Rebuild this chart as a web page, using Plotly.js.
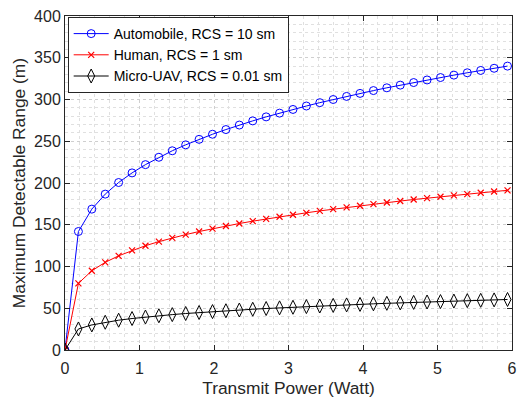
<!DOCTYPE html>
<html><head><meta charset="utf-8">
<script src="https://cdn.plot.ly/plotly-3.0.1.min.js"></script>
<style>body{margin:0;background:#fff}#c{width:517px;height:399px}</style>
</head><body><div id="c"></div>
<script>
var power = [0,0.18,0.36,0.54,0.72,0.90,1.08,1.26,1.44,1.62,1.80,1.98,2.16,2.34,2.52,2.70,2.88,3.06,3.24,3.42,3.60,3.78,3.96,4.14,4.32,4.50,4.68,4.86,5.04,5.22,5.40,5.58,5.76,5.94];
var automobile = [0,141.9,168.7,186.7,200.6,212.1,222.0,230.8,238.6,245.7,252.3,258.4,264.0,269.4,274.4,279.2,283.7,288.1,292.2,296.2,300.0,303.7,307.3,310.7,314.0,317.2,320.3,323.4,326.3,329.2,332.0,334.8,337.4,340.0];
var human = [0,79.8,94.9,105.0,112.8,119.3,124.9,129.8,134.2,138.2,141.9,145.3,148.5,151.5,154.3,157.0,159.6,162.0,164.3,166.6,168.7,170.8,172.8,174.7,176.6,178.4,180.2,181.9,183.5,185.2,186.7,188.3,189.8,191.2];
var microUAV = [0,25.2,30.0,33.2,35.7,37.7,39.5,41.0,42.4,43.7,44.9,46.0,47.0,47.9,48.8,49.7,50.5,51.2,52.0,52.7,53.4,54.0,54.6,55.3,55.9,56.4,57.0,57.5,58.0,58.6,59.1,59.5,60.0,60.5];
var seriesNames = ['Automobile, RCS = 10 sm','Human, RCS = 1 sm','Micro-UAV, RCS = 0.01 sm'];
var xTicks = [0,1,2,3,4,5,6];
var yTicks = [0,50,100,150,200,250,300,350,400];

var FONT = 'Liberation Sans, Arial, Helvetica, sans-serif';
var traces = [
 {x: power, y: automobile, name: seriesNames[0], mode:'lines+markers', type:'scatter',
  line:{color:'#0000ff', width:1}, marker:{symbol:'circle-open', size:8, color:'#0000ff', line:{width:1}}},
 {x: power, y: human, name: seriesNames[1], mode:'lines+markers', type:'scatter',
  line:{color:'#ff0000', width:1}, marker:{symbol:'x-thin-open', size:6, color:'#ff0000', line:{width:1.2, color:'#ff0000'}}},
 {x: power, y: microUAV, name: seriesNames[2], mode:'lines+markers', type:'scatter',
  line:{color:'#000000', width:1}, marker:{symbol:'diamond-tall-open', size:10, color:'#000000', line:{width:1}}}
];
var axisCommon = {
  showline:true, linecolor:'#262626', linewidth:1, mirror:'ticks',
  ticks:'inside', ticklen:5, tickcolor:'#262626', zeroline:false,
  showgrid:true, gridcolor:'#cfcfcf', griddash:'dot', gridwidth:1,
  tickfont:{family:FONT, size:16, color:'#262626'}
};
var layout = {
  width:517, height:399,
  margin:{l:65, r:5, t:16, b:49},
  paper_bgcolor:'#fff', plot_bgcolor:'#fff',
  showlegend:true,
  xaxis: Object.assign({}, axisCommon, {
    range:[0,6], tickvals:xTicks, ticktext:xTicks.map(String), ticklabelstandoff:4,
    minor:{dtick:0.2, showgrid:true, gridcolor:'#e0e0e0', griddash:'dot', ticks:''},
    title:{text:'Transmit Power (Watt)', font:{family:FONT, size:17.4, color:'#262626'}, standoff:5}
  }),
  yaxis: Object.assign({}, axisCommon, {
    range:[0,400], tickvals:yTicks, ticktext:yTicks.map(String),
    minor:{dtick:10, showgrid:true, gridcolor:'#e0e0e0', griddash:'dot', ticks:''},
    title:{text:'Maximum Detectable Range (m)', font:{family:FONT, size:17.4, color:'#262626'}, standoff:4}
  }),
  legend:{x:0.006, y:0.997, xanchor:'left', yanchor:'top', bgcolor:'#fff', bordercolor:'#262626', borderwidth:1,
    font:{family:FONT, size:14, color:'#000'}, tracegroupgap:0, itemwidth:35}
};
Plotly.newPlot('c', traces, layout, {displayModeBar:false, staticPlot:true});
</script></body></html>
